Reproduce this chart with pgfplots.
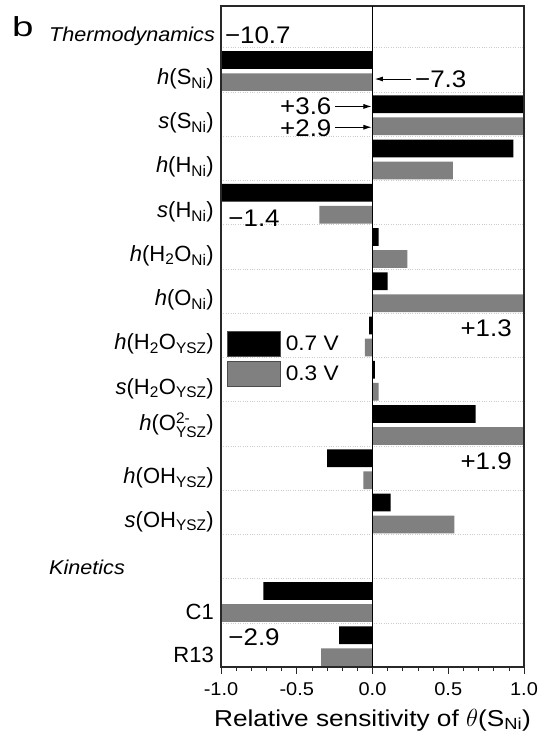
\documentclass[border=0pt]{standalone}
\usepackage{pgfplots}
\pgfplotsset{compat=1.18}
\usepackage{amsmath}
\usepackage{graphicx}
\usepackage{fontspec}
\setmainfont[FakeStretch=1.08]{Liberation Sans}
\newfontfamily\lfont{Liberation Sans}
\newfontfamily\xfont[FakeStretch=1.14]{Liberation Sans}
\usetikzlibrary{arrows.meta}
\newcommand{\sub}[1]{\ensuremath{_{\text{#1}}}}
\newcommand{\fs}[1]{\fontsize{#1bp}{#1bp}\selectfont}
\definecolor{barg}{RGB}{128,128,128}
\definecolor{boxc}{RGB}{40,40,40}
\begin{document}
\begin{tikzpicture}
\begin{axis}[
  name=ax,
  scale only axis,
  width=303bp, height=661bp,
  xmin=-1, xmax=1, ymin=0.06, ymax=15,
  y dir=reverse,
  xbar, bar shift=0pt, bar width=0.40,
  clip mode=individual,
  axis line style={boxc, line width=1pt},
  xtick={-1,-0.5,0,0.5,1},
  xticklabels={-1.0,-0.5,0.0,0.5,1.0},
  minor x tick num=4,
  xtick pos=bottom, ytick pos=left,
  tick align=outside,
  major tick length=7bp, minor tick length=4bp,
  tick style={boxc, line width=0.7pt},
  y tick style={draw=none},
  minor y tick style={draw=none},
  xticklabel style={font=\fs{18.5}, inner sep=0pt, yshift=-8bp},
  ytick={1.83,2.83,3.83,4.83,5.83,6.83,7.83,8.83,9.66,10.85,11.84,13.92,14.90},
  yticklabels={
    {\textit{h}(S\sub{Ni})},
    {\textit{s}(S\sub{Ni})},
    {\textit{h}(H\sub{Ni})},
    {\textit{s}(H\sub{Ni})},
    {\textit{h}(H\sub{2}O\sub{Ni})},
    {\textit{h}(O\sub{Ni})},
    {\textit{h}(H\sub{2}O\sub{YSZ})},
    {\textit{s}(H\sub{2}O\sub{YSZ})},
    {\textit{h}(O\ensuremath{^{\text{2-}}_{\text{YSZ}}})},
    {\textit{h}(OH\sub{YSZ})},
    {\textit{s}(OH\sub{YSZ})},
    {C1},
    {R13}},
  yticklabel style={font=\lfont\fs{22}, anchor=base east, inner sep=0pt, xshift=0bp},
  minor ytick={1,2,...,14},
  yminorgrids=true,
  minor grid style={gray!40, dotted, line width=0.5pt},
  xlabel={Relative sensitivity of $\theta$(S\sub{Ni})},
  xlabel style={font=\xfont\fs{23}, at={(axis description cs:0.5,0)}, anchor=base, yshift=-59bp, inner sep=0pt},
  legend style={at={(axis description cs:0.0182,0.508)}, anchor=north west, draw=none, fill=none,
    inner sep=0pt, outer sep=0pt, row sep=4bp, font=\fs{21}, nodes={inner sep=0pt, anchor=west}},
  legend cell align=left,
  legend image code/.code={\draw[#1, draw=black!70, line width=0.6pt] (0bp,-12.5bp) rectangle (53bp,12.5bp); \path (59bp,0bp);},
]
\addplot[fill=black, draw=none] coordinates {
  (-10.7,1.28) (3.6,2.28) (0.93,3.28) (-1.4,4.28) (0.04,5.28) (0.10,6.28)
  (-0.023,7.28) (0.015,8.28) (0.68,9.28) (-0.30,10.28) (0.12,11.28)
  (-0.72,13.28) (-0.22,14.28)};
\addplot[fill=barg, draw=none] coordinates {
  (-7.3,1.78) (2.9,2.78) (0.53,3.78) (-0.35,4.78) (0.23,5.78) (1.3,6.78)
  (-0.05,7.78) (0.04,8.78) (1.9,9.78) (-0.06,10.78) (0.54,11.78)
  (-2.9,13.78) (-0.34,14.78)};
\legend{0.7 V, 0.3 V}
\draw[boxc, line width=1.8pt] (rel axis cs:0,0) rectangle (rel axis cs:1,1);
\draw[black, line width=0.9pt] (axis cs:0,0.06) -- (axis cs:0,15);
\node[anchor=west, font=\fs{24}, inner sep=0pt] at (axis cs:-0.975,0.71) {−10.7};
\draw[-{Latex[length=8bp,width=5bp]}, line width=0.7pt] (axis cs:0.255,1.71) -- (axis cs:0.016,1.71);
\node[anchor=west, font=\fs{24}, inner sep=0pt] at (axis cs:0.28,1.71) {−7.3};
\node[anchor=east, font=\fs{24}, inner sep=0pt] at (axis cs:-0.27,2.32) {+3.6};
\draw[-{Latex[length=8bp,width=5bp]}, line width=0.7pt] (axis cs:-0.246,2.33) -- (axis cs:-0.007,2.33);
\node[anchor=east, font=\fs{24}, inner sep=0pt] at (axis cs:-0.27,2.82) {+2.9};
\draw[-{Latex[length=8bp,width=5bp]}, line width=0.7pt] (axis cs:-0.246,2.80) -- (axis cs:-0.007,2.80);
\node[anchor=west, font=\fs{24}, inner sep=0pt] at (axis cs:-0.952,4.85) {−1.4};
\node[anchor=east, font=\fs{24}, inner sep=0pt] at (axis cs:0.92,7.35) {+1.3};
\node[anchor=east, font=\fs{24}, inner sep=0pt] at (axis cs:0.92,10.34) {+1.9};
\node[anchor=west, font=\fs{24}, inner sep=0pt] at (axis cs:-0.952,14.32) {−2.9};
\node[anchor=base west, font=\fs{20}\itshape, inner sep=0pt] at ([xshift=-172bp]axis cs:-1,0.87) {Thermodynamics};
\node[anchor=base west, font=\fs{20}\itshape, inner sep=0pt] at ([xshift=-172bp]axis cs:-1,12.92) {Kinetics};
\node[anchor=base west, font=\lfont\fs{27.5}, inner sep=0pt] at ([xshift=-209bp]axis cs:-1,0.76) {\scalebox{1.4}[1]{b}};
\end{axis}
\path[use as bounding box] ([xshift=-221bp,yshift=-75bp]ax.south west) rectangle ([xshift=15bp,yshift=6bp]ax.north east);
\end{tikzpicture}
\end{document}
